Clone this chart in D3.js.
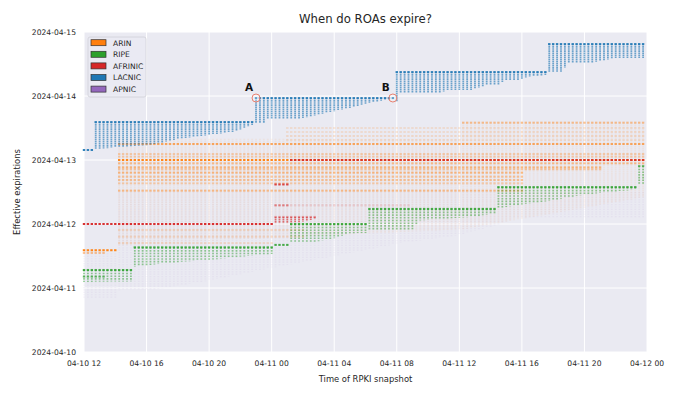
<!DOCTYPE html>
<html>
<head>
<meta charset="utf-8">
<script src="https://cdn.jsdelivr.net/npm/d3@7/dist/d3.min.js"></script>
<style>
  body { margin: 0; background: #fff; }
  svg { font-family: "DejaVu Sans", sans-serif; }
</style>
</head>
<body>
<div id="chart"></div>
<script>
// ---- data ----
var registries = ["ARIN", "RIPE", "AFRINIC", "LACNIC", "APNIC"];
var registryColors = ["#ff7f0e", "#2ca02c", "#d62728", "#1f77b4", "#9467bd"];

var snapshotFirst = "04-10 12:00";
var snapshotLast = "04-11 23:45";
var snapshotMinutes = 15;

var xTicks = ["04-10 12:00", "04-10 16:00", "04-10 20:00", "04-11 00:00", "04-11 04:00",
              "04-11 08:00", "04-11 12:00", "04-11 16:00", "04-11 20:00", "04-12 00:00"];
var yTicks = ["04-10 00:00", "04-11 00:00", "04-12 00:00", "04-13 00:00", "04-14 00:00", "04-15 00:00"];

// stripes: [registry, first snapshot, last snapshot, latest expiry, [[snapshot, earliest expiry], ...], stripe alpha, top alpha]
var lacnicStripes = [
  ["LACNIC", "04-10 12:00", "04-10 12:30", "04-13 03:45", [["04-10 12:00", "04-13 03:45"]], 0.5, 0.9],
  ["LACNIC", "04-10 12:45", "04-10 22:45", "04-13 14:15",
    [["04-10 12:45", "04-13 04:00"], ["04-10 14:00", "04-13 04:45"], ["04-10 16:15", "04-13 05:40"],
     ["04-10 18:00", "04-13 07:50"], ["04-10 20:00", "04-13 09:20"], ["04-10 21:40", "04-13 10:40"],
     ["04-10 22:45", "04-13 13:10"]], 0.62, 0.85],
  ["LACNIC", "04-10 23:00", "04-11 07:45", "04-13 23:15",
    [["04-10 23:00", "04-13 14:00"], ["04-10 23:30", "04-13 14:00"], ["04-10 23:45", "04-13 15:20"],
     ["04-11 01:50", "04-13 15:30"], ["04-11 03:45", "04-13 18:00"], ["04-11 05:00", "04-13 19:30"],
     ["04-11 06:15", "04-13 21:20"], ["04-11 07:15", "04-13 22:30"], ["04-11 07:45", "04-13 22:50"]], 0.62, 0.85],
  ["LACNIC", "04-11 08:00", "04-11 17:30", "04-14 09:00",
    [["04-11 08:00", "04-13 21:50"], ["04-11 08:15", "04-14 01:10"], ["04-11 10:45", "04-14 01:10"],
     ["04-11 11:15", "04-14 02:15"], ["04-11 12:45", "04-14 02:15"], ["04-11 13:45", "04-14 04:10"],
     ["04-11 14:30", "04-14 04:10"], ["04-11 15:00", "04-14 06:00"], ["04-11 15:50", "04-14 06:00"],
     ["04-11 16:20", "04-14 07:10"], ["04-11 17:30", "04-14 07:50"]], 0.62, 0.85],
  ["LACNIC", "04-11 17:45", "04-11 23:45", "04-14 19:30",
    [["04-11 17:45", "04-14 09:00"], ["04-11 18:30", "04-14 09:00"], ["04-11 19:00", "04-14 12:20"],
     ["04-11 20:20", "04-14 12:20"], ["04-11 21:00", "04-14 13:10"], ["04-11 22:00", "04-14 14:15"],
     ["04-11 23:45", "04-14 14:15"]], 0.62, 0.85]
];

var ripeStripes = [
  ["RIPE", "04-10 12:00", "04-10 15:00", "04-11 06:45", [["04-10 12:00", "04-11 02:15"], ["04-10 15:00", "04-11 02:30"]], 0.48, 0.85],
  ["RIPE", "04-10 15:15", "04-11 00:00", "04-11 15:15",
    [["04-10 15:15", "04-11 08:00"], ["04-10 17:30", "04-11 09:30"], ["04-10 20:00", "04-11 10:30"],
     ["04-10 22:30", "04-11 12:00"], ["04-11 00:00", "04-11 12:45"]], 0.48, 0.85],
  ["RIPE", "04-11 00:15", "04-11 01:00", "04-11 16:10", [["04-11 00:15", "04-11 16:10"]], 0.48, 0.85],
  ["RIPE", "04-11 01:15", "04-11 06:00", "04-12 00:00",
    [["04-11 01:15", "04-11 17:00"], ["04-11 02:30", "04-11 17:00"], ["04-11 04:00", "04-11 18:40"],
     ["04-11 05:00", "04-11 20:30"], ["04-11 06:00", "04-11 20:40"]], 0.48, 0.85],
  ["RIPE", "04-11 06:15", "04-11 14:15", "04-12 05:40",
    [["04-11 06:15", "04-11 21:45"], ["04-11 09:00", "04-11 22:00"], ["04-11 09:30", "04-12 01:20"],
     ["04-11 13:00", "04-12 02:45"], ["04-11 14:15", "04-12 04:00"]], 0.48, 0.85],
  ["RIPE", "04-11 14:30", "04-11 23:15", "04-12 13:50",
    [["04-11 14:30", "04-12 05:50"], ["04-11 15:45", "04-12 07:10"], ["04-11 17:45", "04-12 08:40"],
     ["04-11 19:30", "04-12 10:30"], ["04-11 21:15", "04-12 11:50"], ["04-11 23:15", "04-12 12:50"]], 0.48, 0.85],
  ["RIPE", "04-11 23:30", "04-11 23:45", "04-12 21:45", [["04-11 23:30", "04-12 14:40"]], 0.5, 0.6]
];

var afrinicStripes = [
  ["AFRINIC", "04-11 00:15", "04-11 02:45", "04-12 02:40",
    [["04-11 00:15", "04-12 00:20"], ["04-11 01:45", "04-12 00:40"], ["04-11 02:45", "04-12 01:50"]], 0.6, 0.4]
];

// faint spread of the remaining ROAs
var faintStripes = [
  ["ARIN", "04-10 14:15", "04-11 12:00", "04-13 08:00",
    [["04-10 14:15", "04-11 16:00"], ["04-11 12:00", "04-11 22:00"]], 0.07, 0],
  ["ARIN", "04-11 12:15", "04-11 23:45", "04-13 14:00",
    [["04-11 12:15", "04-11 22:00"], ["04-11 23:45", "04-12 10:00"]], 0.07, 0],
  ["APNIC", "04-10 12:00", "04-10 14:00", "04-11 13:00", [["04-10 12:00", "04-10 20:15"]], 0.06, 0],
  ["APNIC", "04-10 14:15", "04-11 23:45", "04-12 12:00",
    [["04-10 14:15", "04-10 23:00"], ["04-10 16:15", "04-10 23:15"], ["04-10 19:30", "04-11 02:15"],
     ["04-11 00:00", "04-11 07:30"], ["04-11 03:45", "04-11 11:40"], ["04-11 08:15", "04-11 16:50"],
     ["04-11 12:00", "04-11 19:50"], ["04-11 14:30", "04-11 23:40"], ["04-11 15:30", "04-12 02:15"],
     ["04-11 23:45", "04-12 02:15"]], 0.06, 0]
];

// rows: [registry, expiry, first snapshot, last snapshot, alpha]
var arinRows = [
  ["ARIN", "04-11 14:10", "04-10 12:00", "04-10 14:00", 0.95],
  ["ARIN", "04-11 13:10", "04-10 12:00", "04-10 13:15", 0.45],
  ["ARIN", "04-13 14:00", "04-11 12:15", "04-11 23:45", 0.45],
  ["ARIN", "04-13 12:00", "04-11 01:00", "04-11 23:45", 0.15],
  ["ARIN", "04-13 10:30", "04-11 01:00", "04-11 23:45", 0.15],
  ["ARIN", "04-13 09:00", "04-11 01:00", "04-11 23:45", 0.18],
  ["ARIN", "04-13 07:30", "04-11 01:00", "04-11 23:45", 0.15],
  ["ARIN", "04-13 06:00", "04-10 14:15", "04-11 23:45", 0.65],
  ["ARIN", "04-13 02:15", "04-10 14:15", "04-11 23:45", 0.3],
  ["ARIN", "04-13 01:15", "04-10 14:15", "04-11 23:45", 0.3],
  ["ARIN", "04-13 00:00", "04-10 14:15", "04-11 23:45", 0.95],
  ["ARIN", "04-12 22:45", "04-10 14:15", "04-11 23:45", 0.45],
  ["ARIN", "04-12 21:15", "04-10 14:15", "04-11 21:00", 0.5],
  ["ARIN", "04-12 20:30", "04-10 14:15", "04-11 21:00", 0.35],
  ["ARIN", "04-12 19:15", "04-10 14:15", "04-11 16:00", 0.5],
  ["ARIN", "04-12 17:45", "04-10 14:15", "04-11 16:00", 0.4],
  ["ARIN", "04-12 16:30", "04-10 14:15", "04-11 16:00", 0.4],
  ["ARIN", "04-12 15:15", "04-10 14:15", "04-11 16:00", 0.3],
  ["ARIN", "04-12 12:30", "04-10 14:15", "04-11 16:00", 0.45],
  ["ARIN", "04-11 21:45", "04-10 14:15", "04-11 02:00", 0.2],
  ["ARIN", "04-11 19:15", "04-10 14:15", "04-11 02:00", 0.2],
  ["ARIN", "04-11 16:50", "04-10 14:15", "04-11 00:00", 0.2]
];

var ripeRows = [
  ["RIPE", "04-11 04:15", "04-10 12:00", "04-10 13:15", 0.6]
];

var afrinicRows = [
  ["AFRINIC", "04-12 00:00", "04-10 12:00", "04-11 00:00", 0.95],
  ["AFRINIC", "04-12 14:50", "04-11 00:15", "04-11 01:00", 0.85],
  ["AFRINIC", "04-12 07:00", "04-11 00:15", "04-11 01:00", 0.55],
  ["AFRINIC", "04-12 07:00", "04-11 01:15", "04-11 08:45", 0.15],
  ["AFRINIC", "04-13 00:00", "04-11 01:15", "04-11 23:45", 0.85]
];

var annotations = [
  ["A", "04-10 23:00", "04-13 23:15"],
  ["B", "04-11 07:45", "04-13 23:15"]
];

// ---- chart ----
var parseTime = d3.timeParse("%Y-%m-%d %H:%M");
function t(s) { return parseTime("2024-" + s); }
function colorOf(r) { return registryColors[registries.indexOf(r)]; }

var margin = { top: 32, right: 33, bottom: 46, left: 84 };
var width = 680 - margin.left - margin.right,
    height = 398 - margin.top - margin.bottom;

var svg = d3.select("#chart").append("svg")
    .attr("width", 680)
    .attr("height", 398);

var g = svg.append("g")
    .attr("transform", "translate(" + margin.left + "," + margin.top + ")");

var x = d3.scaleTime()
    .domain([t("04-10 12:00"), t("04-12 00:00")])
    .range([0, width]);

var y = d3.scaleTime()
    .domain([t("04-10 00:00"), t("04-15 00:00")])
    .range([height, 0]);

g.append("rect")
    .attr("width", width)
    .attr("height", height)
    .attr("fill", "#eaeaf2");

// grid
g.selectAll(".xgrid").data(xTicks).enter().append("line")
    .attr("x1", function(d) { return x(t(d)); })
    .attr("x2", function(d) { return x(t(d)); })
    .attr("y1", 0).attr("y2", height)
    .attr("stroke", "#fff").attr("stroke-width", 1);

g.selectAll(".ygrid").data(yTicks).enter().append("line")
    .attr("y1", function(d) { return y(t(d)); })
    .attr("y2", function(d) { return y(t(d)); })
    .attr("x1", 0).attr("x2", width)
    .attr("stroke", "#fff").attr("stroke-width", 1);

var snapshots = d3.timeMinute.every(snapshotMinutes).range(t(snapshotFirst), d3.timeMinute.offset(t(snapshotLast), 1));

var marks = g.append("g");

function drawStripes(stripes) {
    stripes.forEach(function(s) {
        var from = t(s[1]), to = t(s[2]), top = y(t(s[3]));
        var pts = s[4];
        var bottom = pts.length > 1
            ? d3.scaleTime().domain(pts.map(function(p) { return t(p[0]); }))
                .range(pts.map(function(p) { return y(t(p[1])); })).clamp(true)
            : function() { return y(t(pts[0][1])); };
        var cols = snapshots.filter(function(d) { return d >= from && d <= to; });
        var col = colorOf(s[0]);
        var dash = s[0] === "RIPE" ? "1.6,1.1" : (s[0] === "APNIC" ? "1.2,1.2" : "1.6,0.5");

        marks.selectAll(null).data(cols).enter().append("line")
            .attr("x1", function(d) { return x(d); })
            .attr("x2", function(d) { return x(d); })
            .attr("y1", top)
            .attr("y2", function(d) { return bottom(d); })
            .attr("stroke", col)
            .attr("stroke-width", 1.8)
            .attr("stroke-dasharray", dash)
            .attr("opacity", s[5]);

        if (s[6] > 0) {
            marks.selectAll(null).data(cols).enter().append("rect")
                .attr("x", function(d) { return x(d) - 1.2; })
                .attr("y", top - 1)
                .attr("width", 2.4)
                .attr("height", 2)
                .attr("fill", col)
                .attr("opacity", s[6]);
        }
    });
}

function drawRows(rows) {
    rows.forEach(function(r) {
        var from = t(r[2]), to = t(r[3]), ey = y(t(r[1]));
        var cols = snapshots.filter(function(d) { return d >= from && d <= to; });
        marks.selectAll(null).data(cols).enter().append("rect")
            .attr("x", function(d) { return x(d) - 1.2; })
            .attr("y", ey - 1)
            .attr("width", 2.4)
            .attr("height", 2)
            .attr("fill", colorOf(r[0]))
            .attr("opacity", r[4]);
    });
}

drawStripes(faintStripes);
drawRows(arinRows);
drawStripes(ripeStripes);
drawRows(ripeRows);
drawStripes(afrinicStripes);
drawRows(afrinicRows);
drawStripes(lacnicStripes);

// annotations
annotations.forEach(function(a) {
    var ax = x(t(a[1])), ay = y(t(a[2]));
    g.append("circle")
        .attr("cx", ax).attr("cy", ay).attr("r", 4)
        .attr("fill", "#ffffff").attr("fill-opacity", 0.25)
        .attr("stroke", "#e8806f").attr("stroke-width", 1);
    g.append("text")
        .attr("x", ax - 7).attr("y", ay - 7.5)
        .attr("text-anchor", "middle")
        .attr("font-size", 10.5).attr("font-weight", "bold")
        .attr("fill", "#111")
        .text(a[0]);
});

// tick labels
var fmtX = d3.timeFormat("%m-%d %H"), fmtY = d3.timeFormat("%Y-%m-%d");

g.selectAll(".xlab").data(xTicks).enter().append("text")
    .attr("x", function(d) { return x(t(d)); })
    .attr("y", height + 13.8)
    .attr("text-anchor", "middle")
    .attr("font-size", 7.6).attr("fill", "#262626")
    .text(function(d) { return fmtX(t(d)); });

g.selectAll(".ylab").data(yTicks).enter().append("text")
    .attr("x", -8)
    .attr("y", function(d) { return y(t(d)) + 2.8; })
    .attr("text-anchor", "end")
    .attr("font-size", 7.6).attr("fill", "#262626")
    .text(function(d) { return fmtY(t(d)); });

// axis titles
g.append("text")
    .attr("x", width / 2).attr("y", height + 30)
    .attr("text-anchor", "middle")
    .attr("font-size", 8.4).attr("fill", "#262626")
    .text("Time of RPKI snapshot");

g.append("text")
    .attr("transform", "translate(" + (-64) + "," + (height / 2) + ") rotate(-90)")
    .attr("text-anchor", "middle")
    .attr("font-size", 8.4).attr("fill", "#262626")
    .text("Effective expirations");

svg.append("text")
    .attr("x", margin.left + width / 2).attr("y", 23)
    .attr("text-anchor", "middle")
    .attr("font-size", 11.7).attr("fill", "#262626")
    .text("When do ROAs expire?");

// legend
var legend = g.append("g").attr("transform", "translate(4,5)");
legend.append("rect")
    .attr("width", 58).attr("height", 60).attr("rx", 2)
    .attr("fill", "#eaeaf2").attr("fill-opacity", 0.8)
    .attr("stroke", "#d0d0d8").attr("stroke-width", 0.8);

var items = legend.selectAll(".item").data(registries).enter().append("g")
    .attr("transform", function(d, i) { return "translate(0," + (5.7 + i * 11.6) + ")"; });

items.append("rect")
    .attr("x", 3).attr("y", -3).attr("width", 15).attr("height", 6)
    .attr("fill", function(d) { return colorOf(d); })
    .attr("stroke", "#333").attr("stroke-width", 0.7);

items.append("text")
    .attr("x", 25).attr("y", 2.8)
    .attr("font-size", 7.6).attr("fill", "#262626")
    .text(function(d) { return d; });
</script>
</body>
</html>
